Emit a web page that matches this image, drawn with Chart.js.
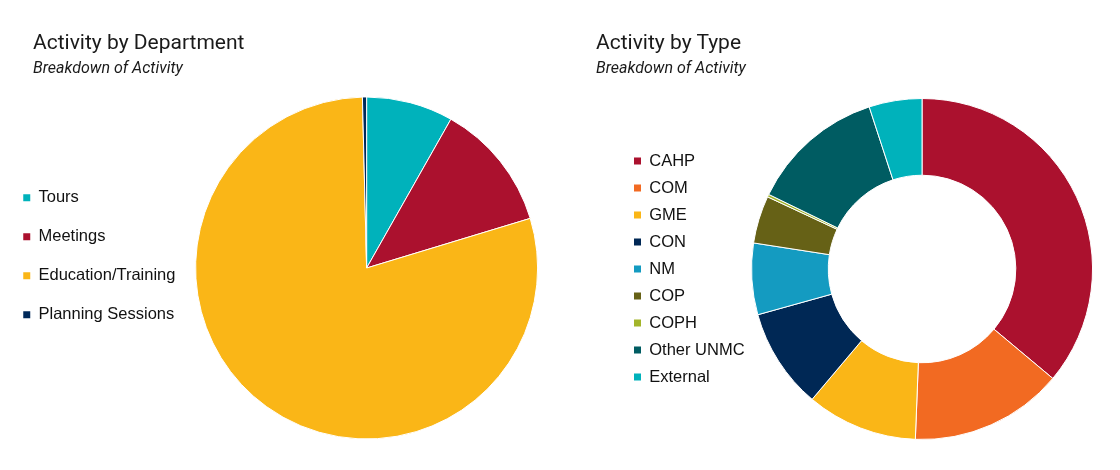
<!DOCTYPE html>
<html lang="en">
<head>
    <meta charset="UTF-8">
    <title>Activity Breakdown</title>
    <script src="https://cdn.jsdelivr.net/npm/chart.js"></script>
    <style>
        body { margin: 0; background: #fff; }
        .panel { position: absolute; top: 0; width: 560px; height: 470px; }
        .panel canvas { position: absolute; left: 0; top: 0; }
        .title { position: absolute; top: 32px; font-family: Roboto, sans-serif; font-size: 21px; line-height: 1; color: #1a1a1a; white-space: nowrap; }
        .subtitle { position: absolute; top: 60px; font-family: Roboto, sans-serif; font-size: 16px; font-style: italic; line-height: 1; color: #1a1a1a; white-space: nowrap; }
    </style>
</head>
<body>
    <div class="panel" style="left:0">
        <canvas id="deptChart" width="560" height="470"></canvas>
        <div class="title" style="left:33px">Activity by Department</div>
        <div class="subtitle" style="left:33px">Breakdown of Activity</div>
    </div>
    <div class="panel" style="left:560px">
        <canvas id="typeChart" width="560" height="470"></canvas>
        <div class="title" style="left:36px">Activity by Type</div>
        <div class="subtitle" style="left:36px">Breakdown of Activity</div>
    </div>

    <script>
// Activity by Department
const deptLabels = ['Tours', 'Meetings', 'Education/Training', 'Planning Sessions'];
const deptValues = [21, 31, 203, 1];
const deptColors = ['#00B2BB', '#AB112E', '#FAB617', '#00295A'];

// Activity by Type
const typeLabels = ['CAHP', 'COM', 'GME', 'CON', 'NM', 'COP', 'COPH', 'Other UNMC', 'External'];
const typeValues = [144, 58, 42, 38, 27, 18, 1, 51, 20];
const typeColors = ['#AB112E', '#F26A22', '#FAB617', '#002855', '#149BC1', '#666116', '#A3B52A', '#005C62', '#00B2BB'];

const legendFont = { family: "'Liberation Sans', Arial, sans-serif", size: 16.5 };

// legend boxes without the white slice border
function plainBoxes(chart) {
    return Chart.overrides.doughnut.plugins.legend.labels.generateLabels(chart)
        .map(item => ({ ...item, strokeStyle: item.fillStyle, lineWidth: 0 }));
}

function makeChart(id, type, labels, values, colors, opts) {
    return new Chart(document.getElementById(id), {
        type: type,
        data: {
            labels: labels,
            datasets: [{
                data: values,
                backgroundColor: colors,
                borderColor: '#ffffff',
                borderWidth: 1,
                radius: opts.radius,
                cutout: opts.cutout
            }]
        },
        options: {
            responsive: false,
            animation: false,
            devicePixelRatio: 1,
            layout: { padding: opts.padding },
            plugins: {
                title: { display: false },
                tooltip: { enabled: false },
                legend: {
                    display: true,
                    position: 'left',
                    align: opts.align,
                    labels: {
                        boxWidth: 7,
                        boxHeight: 7,
                        padding: opts.itemGap,
                        color: '#111111',
                        font: legendFont,
                        generateLabels: plainBoxes
                    }
                }
            }
        }
    });
}

makeChart('deptChart', 'pie', deptLabels, deptValues, deptColors, {
    radius: 171,
    cutout: 0,
    align: 'start',
    itemGap: 22.5,
    padding: { left: 0.75, right: 12.25, top: 167, bottom: 101 }
});

makeChart('typeChart', 'doughnut', typeLabels, typeValues, typeColors, {
    radius: 170.5,
    cutout: '55%',
    align: 'center',
    itemGap: 10.5,
    padding: { left: 63.5, right: 30.5, top: 100, bottom: 32 }
});
    </script>
</body>
</html>
